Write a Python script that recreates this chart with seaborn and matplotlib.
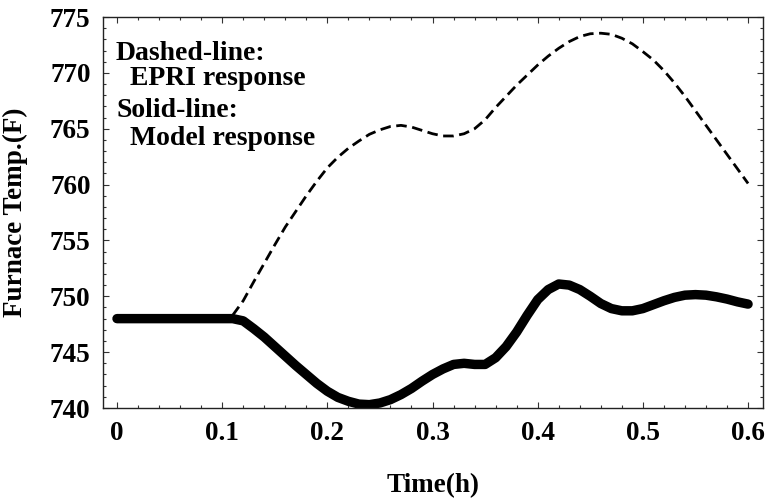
import numpy as np
import pandas as pd
import matplotlib
matplotlib.use("Agg")
import matplotlib.pyplot as plt
from matplotlib.ticker import MultipleLocator
import seaborn as sns

# --- data ---
t_model = [0.00, 0.02, 0.04, 0.06, 0.08, 0.10, 0.11, 0.12, 0.13, 0.14, 0.15, 0.16,
           0.17, 0.18, 0.19, 0.20, 0.21, 0.22, 0.23, 0.24, 0.25, 0.26, 0.27, 0.28,
           0.29, 0.30, 0.31, 0.32, 0.33, 0.34, 0.35, 0.36, 0.37, 0.38, 0.39, 0.40,
           0.41, 0.42, 0.43, 0.44, 0.45, 0.46, 0.47, 0.48, 0.49, 0.50, 0.51, 0.52,
           0.53, 0.54, 0.55, 0.56, 0.57, 0.58, 0.59, 0.60]
y_model = [748.0, 748.0, 748.0, 748.0, 748.0, 748.0, 748.0, 747.8, 747.1, 746.35, 745.5, 744.65,
           743.8, 743.0, 742.2, 741.5, 740.95, 740.6, 740.35, 740.3, 740.45, 740.75, 741.2, 741.75,
           742.4, 743.0, 743.5, 743.9, 744.0, 743.9, 743.9, 744.5, 745.5, 746.8, 748.3, 749.7,
           750.6, 751.1, 751.0, 750.6, 750.0, 749.35, 748.9, 748.7, 748.7, 748.9, 749.25, 749.6,
           749.9, 750.1, 750.15, 750.1, 749.95, 749.75, 749.5, 749.3]

t_epri = [0.11, 0.12, 0.13, 0.14, 0.15, 0.16, 0.17, 0.18, 0.19, 0.20, 0.21, 0.22,
          0.23, 0.24, 0.25, 0.26, 0.27, 0.28, 0.29, 0.30, 0.31, 0.32, 0.33, 0.34,
          0.35, 0.36, 0.37, 0.38, 0.39, 0.40, 0.41, 0.42, 0.43, 0.44, 0.45, 0.46,
          0.47, 0.48, 0.49, 0.50, 0.51, 0.52, 0.53, 0.54, 0.55, 0.56, 0.57, 0.58,
          0.59, 0.60]
y_epri = [748.3, 749.6, 751.3, 752.95, 754.6, 756.2, 757.6, 759.0, 760.3, 761.5, 762.45, 763.25,
          763.9, 764.5, 764.9, 765.2, 765.3, 765.15, 764.85, 764.55, 764.35, 764.35, 764.55, 765.0,
          765.8, 766.9, 767.9, 768.9, 769.8, 770.7, 771.5, 772.2, 772.8, 773.25, 773.5, 773.55,
          773.45, 773.1, 772.6, 771.9, 771.15, 770.2, 769.1, 767.9, 766.6, 765.3, 764.0, 762.7,
          761.4, 760.1]

x_ticks = [0, 0.1, 0.2, 0.3, 0.4, 0.5, 0.6]
x_ticklabels = ["0", "0.1", "0.2", "0.3", "0.4", "0.5", "0.6"]
y_ticks = [740, 745, 750, 755, 760, 765, 770, 775]

x_label = "Time(h)"
y_label = "Furnace Temp.(F)"
notes = ["Dashed-line:", "  EPRI response", "Solid-line:", "  Model response"]

df_model = pd.DataFrame({"t": t_model, "y": y_model})
df_epri = pd.DataFrame({"t": t_epri, "y": y_epri})

sns.set_theme(style="ticks")
plt.rcParams["font.family"] = ["Liberation Serif", "DejaVu Serif"]
plt.rcParams["font.weight"] = "bold"
plt.rcParams["text.color"] = "black"
plt.rcParams["axes.labelcolor"] = "black"
plt.rcParams["xtick.color"] = "black"
plt.rcParams["ytick.color"] = "black"
plt.rcParams["xtick.labelcolor"] = "black"
plt.rcParams["ytick.labelcolor"] = "black"

W, H = 767, 498
fig = plt.figure(figsize=(W / 100, H / 100), dpi=100)
ax = fig.add_axes([103 / W, 1 - 408 / H, (763 - 103) / W, (408 - 17) / H])

sns.lineplot(data=df_model, x="t", y="y", ax=ax, color="black", linewidth=6.8,
             sort=False, solid_capstyle="round", solid_joinstyle="round")
sns.lineplot(data=df_epri, x="t", y="y", ax=ax, color="black", linewidth=2.0,
             sort=False, linestyle="--")
ax.lines[-1].set_dashes((3.8, 2.0))

ax.set_xlim(-0.0133, 0.6142)
ax.set_ylim(740, 775)
ax.set_xticks(x_ticks)
ax.set_xticklabels(x_ticklabels)
ax.set_yticks(y_ticks)
ax.xaxis.set_minor_locator(MultipleLocator(0.02))
ax.yaxis.set_minor_locator(MultipleLocator(1))
ax.tick_params(which="both", direction="in", top=True, right=True, width=0.8,
               color="#333333")
ax.tick_params(which="major", length=4.5, labelsize=19.5, pad=9)
ax.tick_params(which="minor", length=2.5)
for lab in ax.get_xticklabels() + ax.get_yticklabels():
    lab.set_fontweight("bold")
for s in ax.spines.values():
    s.set_linewidth(1.0)
    s.set_color("#222222")

ax.set_xlabel(x_label, fontsize=19.5, fontweight="bold", labelpad=20)
ax.set_ylabel(y_label, fontsize=19.5, fontweight="bold", labelpad=16)

baselines = [60, 85, 117, 145]
for txt, b in zip(notes, baselines):
    fig.text(116 / W, 1 - b / H, txt, fontsize=20, fontweight="bold",
             va="baseline", ha="left")

fig.savefig("out.png", dpi=100)
